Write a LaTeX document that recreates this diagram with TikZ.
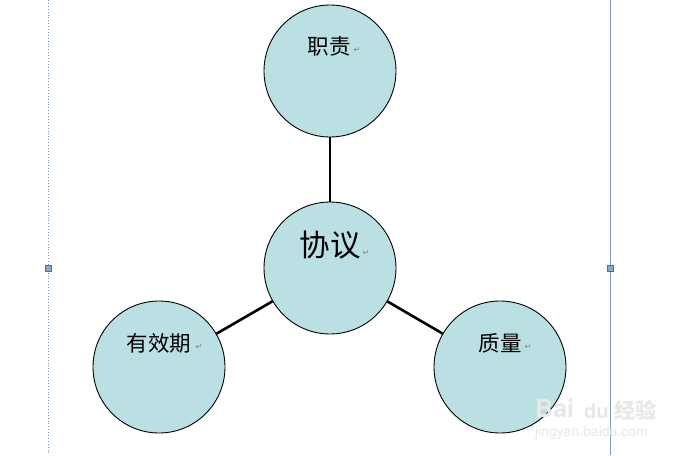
\documentclass[tikz,border=0pt]{standalone}
\usepackage{fontspec}
\newfontfamily\cjk{Noto Sans CJK SC}
\newfontfamily\dejavu{DejaVu Sans}
\newfontfamily\heros{TeX Gyre Heros}
\definecolor{bubble}{RGB}{187,224,227}
\definecolor{guide}{RGB}{127,156,196}
\definecolor{handlefill}{RGB}{141,165,200}
\definecolor{handledraw}{RGB}{80,110,155}
\begin{document}
\begin{tikzpicture}[x=1pt,y=-1pt,
  bubblestyle/.style={circle,draw=black,line width=0.9pt,fill=bubble,minimum size=132pt,inner sep=0pt},
  lbl/.style={font=\cjk\fontsize{21.5}{21.5}\selectfont,inner sep=0pt,anchor=center},
  retmark/.style={font=\dejavu\fontsize{8}{8}\selectfont,text=gray,inner sep=0pt},
  link/.style={line width=2.6pt,black},
  handle/.style={draw=handledraw,fill=handlefill,minimum size=6pt,inner sep=0pt,line width=0.6pt},
  wm/.style={text=black!9,inner sep=0pt}]
\useasboundingbox (0,0) rectangle (698,455);
\fill[white] (0,0) rectangle (698,455);
% guides
\draw[guide,dotted,line width=0.9pt] (48,0) -- (48,455);
\draw[guide,line width=0.9pt] (610,0) -- (610,455);
\node[handle] (hl) at (48,268) {};
\node[handle] (hr) at (610,268) {};
% circles
\node[bubblestyle] (top) at (330,71) {};
\node[bubblestyle] (mid) at (330,268) {};
\node[bubblestyle] (left) at (159,367) {};
\node[bubblestyle] (right) at (500,367) {};
% links
\draw[link] (mid) -- (top);
\draw[link] (mid) -- (left);
\draw[link] (mid) -- (right);
% labels
\node[lbl] (t1) at (329,46) {职责};
\node[retmark] (r1) at (357,50) {↵};
\node[lbl,font=\cjk\fontsize{30.5}{30.5}\selectfont] (t2) at (330,245) {协议};
\node[retmark] (r2) at (366,253) {↵};
\node[lbl] (t3) at (159,343) {有效期};
\node[retmark] (r3) at (199,347) {↵};
\node[lbl] (t4) at (500,343) {质量};
\node[retmark] (r4) at (528,347) {↵};
% watermark
\node[wm,font=\heros\bfseries\fontsize{25}{25}\selectfont,anchor=west] (w1) at (535,408) {Bai};
\node[wm,font=\heros\bfseries\fontsize{20}{20}\selectfont,anchor=west] (w2) at (584,411) {du};
\node[wm,font=\cjk\bfseries\fontsize{21}{21}\selectfont,anchor=west] (w3) at (614,410) {经验};
\node[wm,font=\heros\fontsize{14}{14}\selectfont,anchor=west] (w4) at (535,433) {jingyan.baidu.com};
\end{tikzpicture}
\end{document}
